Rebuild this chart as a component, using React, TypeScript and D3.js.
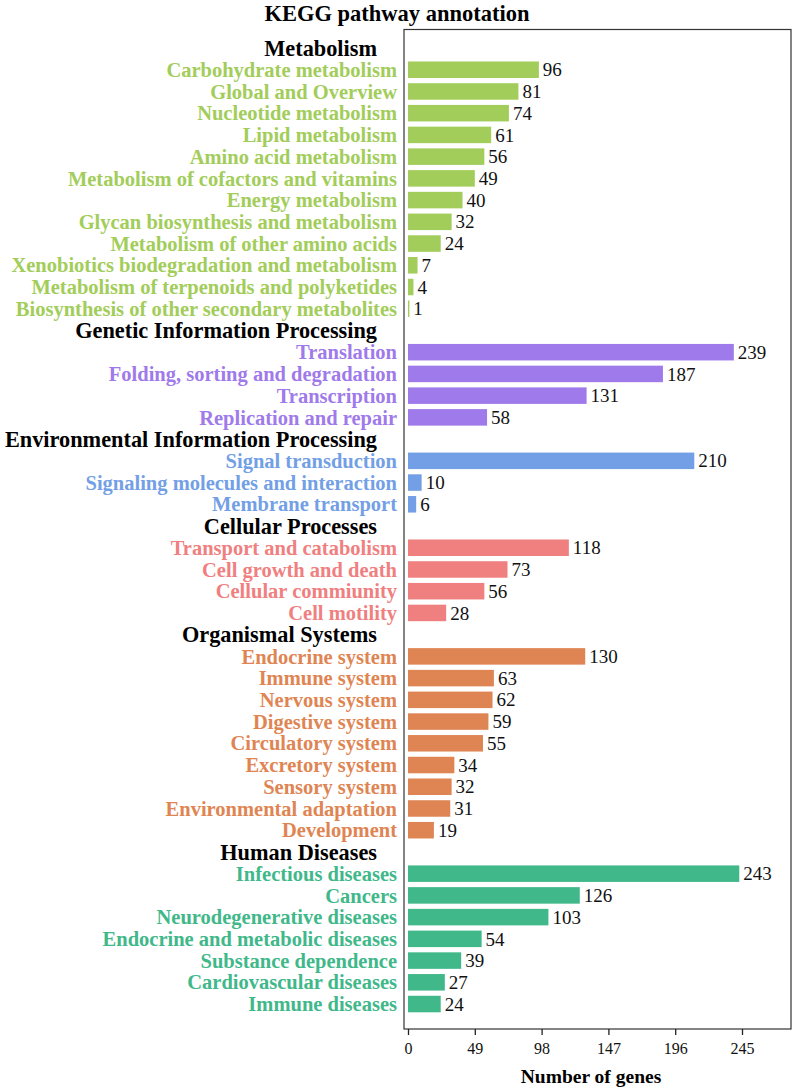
import React from "react";
import * as d3 from "d3";

const groupNames = [
  "Metabolism",
  "Genetic Information Processing",
  "Environmental Information Processing",
  "Cellular Processes",
  "Organismal Systems",
  "Human Diseases",
];

const groupColors = ["#A2CD5A", "#9F7AEA", "#739FE6", "#F08080", "#DF8553", "#40B88A"];

const metabolismLabels = [
  "Carbohydrate metabolism",
  "Global and Overview",
  "Nucleotide metabolism",
  "Lipid metabolism",
  "Amino acid metabolism",
  "Metabolism of cofactors and vitamins",
  "Energy metabolism",
  "Glycan biosynthesis and metabolism",
  "Metabolism of other amino acids",
  "Xenobiotics biodegradation and metabolism",
  "Metabolism of terpenoids and polyketides",
  "Biosynthesis of other secondary metabolites",
];
const metabolismValues = [96, 81, 74, 61, 56, 49, 40, 32, 24, 7, 4, 1];

const geneticLabels = [
  "Translation",
  "Folding, sorting and degradation",
  "Transcription",
  "Replication and repair",
];
const geneticValues = [239, 187, 131, 58];

const environmentalLabels = [
  "Signal transduction",
  "Signaling molecules and interaction",
  "Membrane transport",
];
const environmentalValues = [210, 10, 6];

const cellularLabels = [
  "Transport and catabolism",
  "Cell growth and death",
  "Cellular commiunity",
  "Cell motility",
];
const cellularValues = [118, 73, 56, 28];

const organismalLabels = [
  "Endocrine system",
  "Immune system",
  "Nervous system",
  "Digestive system",
  "Circulatory system",
  "Excretory system",
  "Sensory system",
  "Environmental adaptation",
  "Development",
];
const organismalValues = [130, 63, 62, 59, 55, 34, 32, 31, 19];

const diseaseLabels = [
  "Infectious diseases",
  "Cancers",
  "Neurodegenerative diseases",
  "Endocrine and metabolic diseases",
  "Substance dependence",
  "Cardiovascular diseases",
  "Immune diseases",
];
const diseaseValues = [243, 126, 103, 54, 39, 27, 24];

const xTicks = [0, 49, 98, 147, 196, 245];

const groupLabels = [metabolismLabels, geneticLabels, environmentalLabels, cellularLabels, organismalLabels, diseaseLabels];
const groupValues = [metabolismValues, geneticValues, environmentalValues, cellularValues, organismalValues, diseaseValues];

type Row = { id: string; kind: "header" | "bar"; label: string; value?: number; color?: string };

const rows: Row[] = [];
groupNames.forEach((g, gi) => {
  rows.push({ id: "h" + gi, kind: "header", label: g });
  groupLabels[gi].forEach((l, li) => {
    rows.push({ id: "b" + gi + "_" + li, kind: "bar", label: l, value: groupValues[gi][li], color: groupColors[gi] });
  });
});

const FONT = "'Liberation Serif', 'Times New Roman', serif";

export default function App() {
  const W = 797;
  const H = 1087;
  const frame = { left: 404, right: 791, top: 29.5, bottom: 1029 };

  const x = d3.scaleLinear().domain([0, 245]).range([408, 742]);
  const y = d3
    .scaleBand<string>()
    .domain(rows.map((r) => r.id))
    .range([frame.top, frame.bottom])
    .paddingInner(0.24)
    .paddingOuter(0.62)
    .align(0.38);

  const axisRef = React.useRef<SVGGElement>(null);
  React.useEffect(() => {
    if (!axisRef.current) return;
    const g = d3.select(axisRef.current);
    g.call(d3.axisBottom(x).tickValues(xTicks).tickSize(6).tickPadding(8).tickFormat(d3.format("d")) as any);
    g.select(".domain").remove();
    g.selectAll(".tick line").attr("stroke", "#222").attr("stroke-width", 1.3);
    g.selectAll(".tick text").attr("font-family", FONT).attr("font-size", 16).attr("fill", "#111");
  }, []);

  const bw = y.bandwidth();

  return (
    <svg width={W} height={H} style={{ position: "absolute", left: 0, top: 0, background: "#fff" }}>
      <text x={397} y={21} textAnchor="middle" fontFamily={FONT} fontWeight="bold" fontSize={22.5} fill="#000">
        KEGG pathway annotation
      </text>
      <rect
        x={frame.left}
        y={frame.top}
        width={frame.right - frame.left}
        height={frame.bottom - frame.top}
        fill="none"
        stroke="#333"
        strokeWidth={1.2}
      />
      {rows.map((r) => {
        const cy = (y(r.id) as number) + bw / 2;
        if (r.kind === "header") {
          return (
            <text key={r.id} x={377} y={cy} dy="0.35em" textAnchor="end" fontFamily={FONT} fontWeight="bold" fontSize={22.3} fill="#000">
              {r.label}
            </text>
          );
        }
        const v = r.value as number;
        return (
          <g key={r.id}>
            <text x={397} y={cy} dy="0.35em" textAnchor="end" fontFamily={FONT} fontWeight="bold" fontSize={20.5} fill={r.color}>
              {r.label}
            </text>
            <rect x={x(0)} y={y(r.id)} width={Math.max(0, x(v) - x(0))} height={bw} fill={r.color} />
            <text x={x(v) + 4} y={cy} dy="0.35em" fontFamily={FONT} fontSize={19} fill="#111">
              {v}
            </text>
          </g>
        );
      })}
      <g ref={axisRef} transform={`translate(0,${frame.bottom})`} />
      <text x={591} y={1083} textAnchor="middle" fontFamily={FONT} fontWeight="bold" fontSize={19.5} fill="#000">
        Number of genes
      </text>
    </svg>
  );
}
